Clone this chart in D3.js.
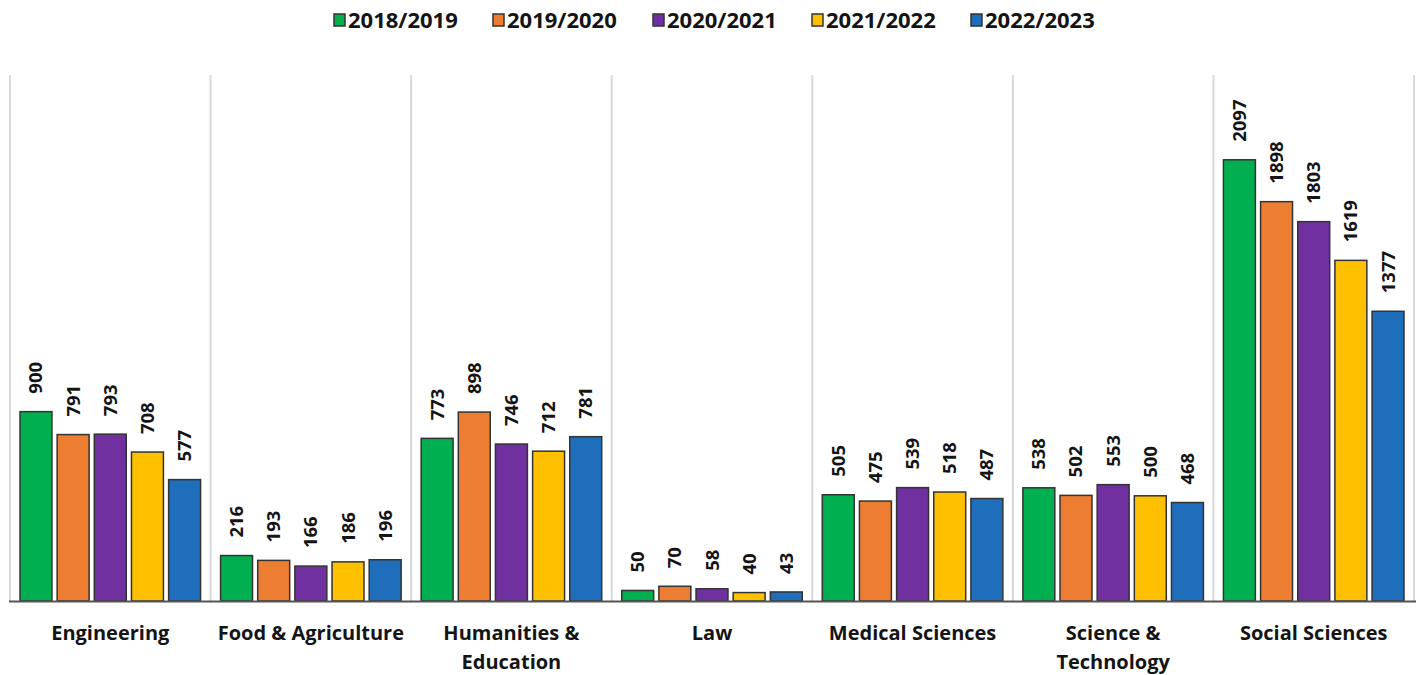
<!DOCTYPE html>
<html><head><meta charset="utf-8">
<script src="https://cdn.jsdelivr.net/npm/d3@7"></script>
<style>body{margin:0;background:#fff;} svg{display:block;}</style>
</head><body>
<svg id="c" width="1422" height="675"></svg>
<script>
const categories = ["Engineering","Food & Agriculture","Humanities & Education","Law","Medical Sciences","Science & Technology","Social Sciences"];
const categoryLines = [["Engineering"],["Food & Agriculture"],["Humanities &","Education"],["Law"],["Medical Sciences"],["Science &","Technology"],["Social Sciences"]];
const seriesNames = ["2018/2019","2019/2020","2020/2021","2021/2022","2022/2023"];
const s2018 = [900,216,773,50,505,538,2097];
const s2019 = [791,193,898,70,475,502,1898];
const s2020 = [793,166,746,58,539,553,1803];
const s2021 = [708,186,712,40,518,500,1619];
const s2022 = [577,196,781,43,487,468,1377];
const seriesValues = [s2018,s2019,s2020,s2021,s2022];
const colors = ["#00B050","#ED7D31","#7030A0","#FFC000","#1F6EBB"];

const svg = d3.select("#c");
const plotL = 10, plotR = 1414, plotT = 75, plotB = 601;
const font = "'Open Sans', Lato, sans-serif";

const x0 = d3.scaleBand().domain(categories).range([plotL, plotR]).paddingInner(0).paddingOuter(0);
const x1 = d3.scaleBand().domain(seriesNames).range([10, x0.bandwidth()-10]).paddingInner(0.14).paddingOuter(0);
const y = d3.scaleLinear().domain([0, 2500]).range([plotB, plotT]);

// vertical gridlines at category boundaries
const bounds = categories.map(c => x0(c)).concat([plotR]);
svg.append("g").selectAll("line").data(bounds).join("line")
  .attr("x1", d => d).attr("x2", d => d).attr("y1", plotT).attr("y2", plotB)
  .attr("stroke", "#d9d9d9").attr("stroke-width", 2);

// bars
const g = svg.append("g");
seriesNames.forEach((s, si) => {
  const vals = seriesValues[si];
  g.append("g").selectAll("rect").data(categories).join("rect")
    .attr("x", c => x0(c) + x1(s))
    .attr("y", (c, i) => y(vals[i]))
    .attr("width", x1.bandwidth())
    .attr("height", (c, i) => plotB - y(vals[i]))
    .attr("fill", colors[si]).attr("stroke", "#333").attr("stroke-width", 1.5);
  g.append("g").selectAll("text").data(categories).join("text")
    .attr("transform", (c, i) => `translate(${x0(c) + x1(s) + x1.bandwidth()/2 + 6.5},${y(vals[i]) - 18}) rotate(-90)`)
    .attr("font-family", font).attr("font-weight", 700).attr("font-size", 18.5)
    .attr("fill", "#141414")
    .text((c, i) => vals[i]);
});

// baseline
svg.append("line").attr("x1", plotL - 1).attr("x2", plotR + 2).attr("y1", plotB + 0.5).attr("y2", plotB + 0.5)
  .attr("stroke", "#555").attr("stroke-width", 2);

// category labels
const xa = svg.append("g");
categories.forEach((c, i) => {
  const t = xa.append("text").attr("x", x0(c) + x0.bandwidth()/2).attr("y", 640)
    .attr("text-anchor", "middle").attr("font-family", font).attr("font-weight", 700)
    .attr("font-size", 20).attr("fill", "#141414");
  categoryLines[i].forEach((ln, j) => {
    t.append("tspan").attr("x", x0(c) + x0.bandwidth()/2).attr("dy", j ? 29 : 0).text(ln);
  });
});

// legend
const legendX = [334, 493, 653, 812, 971];
const lg = svg.append("g");
seriesNames.forEach((s, i) => {
  lg.append("rect").attr("x", legendX[i]).attr("y", 14).attr("width", 11).attr("height", 12)
    .attr("fill", colors[i]).attr("stroke", "#333").attr("stroke-width", 1.5);
  lg.append("text").attr("x", legendX[i] + 14).attr("y", 28)
    .attr("font-family", font).attr("font-weight", 700).attr("font-size", 22).attr("fill", "#141414").text(s);
});
</script>
</body></html>
